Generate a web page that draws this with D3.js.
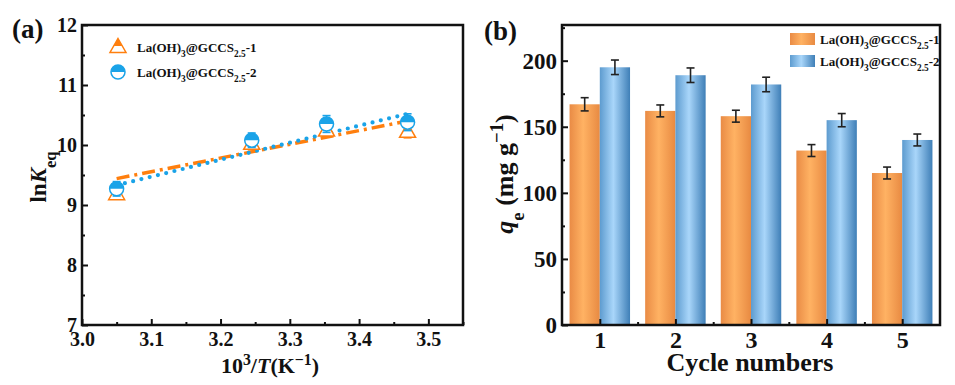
<!DOCTYPE html>
<html>
<head>
<meta charset="utf-8">
<script src="https://cdn.jsdelivr.net/npm/d3@7"></script>
<style>
body { margin: 0; background: #fff; }
svg, svg text { font-family: "Liberation Serif", "Times New Roman", serif; font-weight: bold; }
</style>
</head>
<body>
<div id="chart"></div>
<script>
// ---- panel (a) data ----
var inv_T = [3.05, 3.245, 3.353, 3.47];
var lnk_1 = [9.18, 10.02, 10.24, 10.22];
var lnk_1_err = [0.08, 0.1, 0.1, 0.1];
var lnk_2 = [9.27, 10.08, 10.35, 10.38];
var lnk_2_err = [0.12, 0.12, 0.14, 0.14];
var fit_x = [3.05, 3.47];
var fit_1 = [9.44, 10.4];
var fit_2 = [9.33, 10.52];
var series_names = ["1", "2"];

// ---- panel (b) data ----
var cycles = [1, 2, 3, 4, 5];
var qe_1 = [167, 162, 158, 132, 115];
var qe_2 = [195, 189, 182, 155, 140];
var qe_1_err = [5, 4.5, 4.5, 4.5, 4.5];
var qe_2_err = [5.5, 5.5, 5.5, 5, 4.5];

var orange = "#ff7f0e", blue = "#1aa3e8";
var serif = "'Liberation Serif', 'Times New Roman', serif";

var svg = d3.select("#chart").append("svg").attr("width", 955).attr("height", 385);
var defs = svg.append("defs");

defs.append("clipPath").attr("id", "top_half").append("rect")
   .attr("x", -20).attr("y", -20).attr("width", 40).attr("height", 19);

function bar_gradient(id, c_edge, c_mid, c_right) {
   var g = defs.append("linearGradient").attr("id", id).attr("x1", "0%").attr("x2", "100%");
   g.append("stop").attr("offset", "0%").attr("stop-color", c_edge);
   g.append("stop").attr("offset", "45%").attr("stop-color", c_mid);
   g.append("stop").attr("offset", "100%").attr("stop-color", c_right);
}
bar_gradient("grad_orange", "#e98b45", "#ffb263", "#e88a42");
bar_gradient("grad_blue", "#5d9bcf", "#a9d6fa", "#3f7fb7");

// label with sub/superscripts: parts = [[text, kind]] kind: n, i, sub, sup
function rich_text(sel, parts, size) {
   parts.forEach(function(p) {
      var t = sel.append("tspan").text(p[0]);
      if (p[1] == "i") t.style("font-style", "italic");
      if (p[1] == "sub") t.attr("font-size", size * 0.72).attr("baseline-shift", "sub");
      if (p[1] == "sup") t.attr("font-size", size * 0.72).attr("baseline-shift", "super");
   });
}

function legend_parts(n) {
   return [["La(OH)", "n"], ["3", "sub"], ["@GCCS", "n"], ["2.5", "sub"], ["-" + n, "n"]];
}

function style_axis(a, fs) {
   a.attr("font-family", null);
   a.select(".domain").remove();
   a.selectAll("line").attr("stroke", "#111").attr("stroke-width", 2);
   a.selectAll("text").attr("font-size", fs).attr("fill", "#111")
      .style("font-family", serif).style("font-weight", "bold");
}

function frame_axes(g, x, y, xticks, xminor, yticks, yminor, xfmt, yfmt, xfs, yfs, xpad) {
   var x0 = x.range()[0], x1 = x.range()[1], y0 = y.range()[0], y1 = y.range()[1];
   g.append("g").attr("transform", "translate(0," + y0 + ")")
      .call(d3.axisBottom(x).tickValues(xticks).tickSizeInner(-6).tickSizeOuter(0).tickPadding(xpad).tickFormat(xfmt))
      .call(style_axis, xfs);
   g.append("g").attr("transform", "translate(0," + y0 + ")")
      .call(d3.axisBottom(x).tickValues(xminor).tickSizeInner(-3).tickSizeOuter(0).tickFormat(""))
      .call(style_axis, xfs);
   g.append("g").attr("transform", "translate(" + x0 + ",0)")
      .call(d3.axisLeft(y).tickValues(yticks).tickSizeInner(-6).tickSizeOuter(0).tickPadding(5).tickFormat(yfmt))
      .call(style_axis, yfs);
   g.append("g").attr("transform", "translate(" + x0 + ",0)")
      .call(d3.axisLeft(y).tickValues(yminor).tickSizeInner(-3).tickSizeOuter(0).tickFormat(""))
      .call(style_axis, yfs);
   g.append("rect").attr("x", x0).attr("y", y1).attr("width", x1 - x0).attr("height", y0 - y1)
      .attr("fill", "none").attr("stroke", "#111").attr("stroke-width", 2.5);
}

// ================= panel (a) =================
var ga = svg.append("g");
var xa = d3.scaleLinear().domain([3.0, 3.55]).range([82, 463]);
var ya = d3.scaleLinear().domain([7, 12]).range([325, 25]);

var line_a = d3.line().x(function(d) { return xa(d[0]); }).y(function(d) { return ya(d[1]); });
ga.append("path").datum(d3.zip(fit_x, fit_1)).attr("d", line_a)
   .attr("fill", "none").attr("stroke", orange).attr("stroke-width", 3.5)
   .attr("stroke-dasharray", "13,5,3,5");
ga.append("path").datum(d3.zip(fit_x, fit_2)).attr("d", line_a)
   .attr("fill", "none").attr("stroke", blue).attr("stroke-width", 4.2)
   .attr("stroke-linecap", "round").attr("stroke-dasharray", "0,8.5");

function err_bars(g, xs, vals, errs, color, xsc, ysc, cap) {
   xs.forEach(function(xv, i) {
      var cx = xsc(xv), yt = ysc(vals[i] + errs[i]), yb = ysc(vals[i] - errs[i]);
      g.append("line").attr("x1", cx).attr("x2", cx).attr("y1", yt).attr("y2", yb).attr("stroke", color).attr("stroke-width", 1.6);
      g.append("line").attr("x1", cx - cap).attr("x2", cx + cap).attr("y1", yt).attr("y2", yt).attr("stroke", color).attr("stroke-width", 1.6);
      g.append("line").attr("x1", cx - cap).attr("x2", cx + cap).attr("y1", yb).attr("y2", yb).attr("stroke", color).attr("stroke-width", 1.6);
   });
}

var tri = "M0,-8.5 L8,5.5 L-8,5.5 Z";
function tri_marker(g, cx, cy) {
   var m = g.append("g").attr("transform", "translate(" + cx + "," + cy + ")");
   m.append("path").attr("d", tri).attr("fill", "#fff").attr("stroke", orange).attr("stroke-width", 1.5);
   m.append("path").attr("d", tri).attr("fill", orange).attr("clip-path", "url(#top_half)");
}
function circ_marker(g, cx, cy) {
   var m = g.append("g").attr("transform", "translate(" + cx + "," + cy + ")");
   m.append("circle").attr("r", 7).attr("fill", "#fff").attr("stroke", blue).attr("stroke-width", 1.5);
   m.append("path").attr("d", "M-7,0 A7,7 0 0 1 7,0 Z").attr("fill", blue);
}

err_bars(ga, inv_T, lnk_1, lnk_1_err, orange, xa, ya, 4);
inv_T.forEach(function(xv, i) { tri_marker(ga, xa(xv), ya(lnk_1[i])); });
err_bars(ga, inv_T, lnk_2, lnk_2_err, blue, xa, ya, 4);
inv_T.forEach(function(xv, i) { circ_marker(ga, xa(xv), ya(lnk_2[i])); });

frame_axes(ga, xa, ya, d3.range(3.0, 3.51, 0.1), d3.range(3.05, 3.56, 0.1),
   [7, 8, 9, 10, 11, 12], [7.5, 8.5, 9.5, 10.5, 11.5],
   d3.format(".1f"), d3.format("d"), 20, 20, 7);

// legend (a)
tri_marker(ga, 118, 47);
circ_marker(ga, 118, 72);
rich_text(ga.append("text").attr("x", 137).attr("y", 52).attr("font-size", 13).attr("fill", "#111"), legend_parts(series_names[0]), 13);
rich_text(ga.append("text").attr("x", 137).attr("y", 77).attr("font-size", 13).attr("fill", "#111"), legend_parts(series_names[1]), 13);

// axis titles (a)
rich_text(ga.append("text").attr("x", 270).attr("y", 373).attr("text-anchor", "middle").attr("font-size", 22).attr("fill", "#111"),
   [["10", "n"], ["3", "sup"], ["/", "n"], ["T", "i"], ["(K", "n"], ["\u22121", "sup"], [")", "n"]], 22);
rich_text(ga.append("text").attr("transform", "translate(46,177) rotate(-90)").attr("text-anchor", "middle").attr("font-size", 23).attr("fill", "#111"),
   [["ln", "n"], ["K", "i"], ["eq", "sub"]], 23);
ga.append("text").attr("x", 12).attr("y", 38).attr("font-size", 27).attr("fill", "#111").text("(a)");

// ================= panel (b) =================
var gb = svg.append("g");
var xb = d3.scaleLinear().domain([0.5, 5.5]).range([562, 940]);
var yb = d3.scaleLinear().domain([0, 227]).range([325, 25]);
var bw = xb(1.4) - xb(1);

gb.selectAll("rect.s1").data(cycles).enter().append("rect").attr("class", "s1")
   .attr("x", function(d) { return xb(d) - bw; }).attr("width", bw)
   .attr("y", function(d, i) { return yb(qe_1[i]); })
   .attr("height", function(d, i) { return yb(0) - yb(qe_1[i]); })
   .attr("fill", "url(#grad_orange)");
gb.selectAll("rect.s2").data(cycles).enter().append("rect").attr("class", "s2")
   .attr("x", function(d) { return xb(d); }).attr("width", bw)
   .attr("y", function(d, i) { return yb(qe_2[i]); })
   .attr("height", function(d, i) { return yb(0) - yb(qe_2[i]); })
   .attr("fill", "url(#grad_blue)");

err_bars(gb, cycles.map(function(c) { return c - 0.2; }), qe_1, qe_1_err, "#222", xb, yb, 4);
err_bars(gb, cycles.map(function(c) { return c + 0.2; }), qe_2, qe_2_err, "#222", xb, yb, 4);

frame_axes(gb, xb, yb, cycles, [1.5, 2.5, 3.5, 4.5],
   [0, 50, 100, 150, 200], [25, 75, 125, 175, 225],
   d3.format("d"), d3.format("d"), 24, 23, 6);

// legend (b)
gb.append("rect").attr("x", 790).attr("y", 33).attr("width", 25).attr("height", 12).attr("fill", "url(#grad_orange)");
gb.append("rect").attr("x", 790).attr("y", 55).attr("width", 25).attr("height", 12).attr("fill", "url(#grad_blue)");
rich_text(gb.append("text").attr("x", 820).attr("y", 44).attr("font-size", 13).attr("fill", "#111"), legend_parts(series_names[0]), 13);
rich_text(gb.append("text").attr("x", 820).attr("y", 66).attr("font-size", 13).attr("fill", "#111"), legend_parts(series_names[1]), 13);

// axis titles (b)
gb.append("text").attr("x", 750).attr("y", 371).attr("text-anchor", "middle").attr("font-size", 26).attr("fill", "#111").text("Cycle numbers");
rich_text(gb.append("text").attr("transform", "translate(513,174) rotate(-90)").attr("text-anchor", "middle").attr("font-size", 26).attr("fill", "#111"),
   [["q", "i"], ["e", "sub"], [" (mg g", "n"], ["\u22121", "sup"], [")", "n"]], 26);
gb.append("text").attr("x", 484).attr("y", 40).attr("font-size", 27).attr("fill", "#111").text("(b)");
</script>
</body>
</html>
